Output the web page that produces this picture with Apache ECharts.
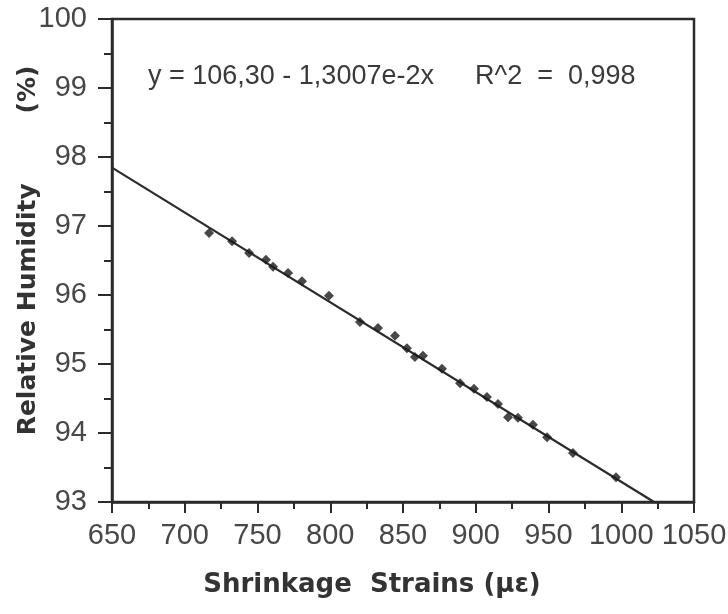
<!DOCTYPE html>
<html>
<head>
<meta charset="utf-8">
<script src="https://cdn.jsdelivr.net/npm/echarts@6/dist/echarts.min.js"></script>
<style>
  html, body { margin: 0; padding: 0; background: #fff; }
  #chart { width: 728px; height: 614px; }
</style>
</head>
<body>
<div id="chart"></div>
<script>
// Measured shrinkage strain (microstrain) against relative humidity (%)
const strain = [716.7, 732.5, 744.2, 755.8, 760.7, 771.0, 780.6, 799.1, 820.4, 832.8,
                844.5, 852.7, 858.2, 863.7, 876.8, 889.2, 898.8, 907.7, 915.3, 922.2,
                929.0, 939.3, 949.0, 966.8, 996.4];
const humidity = [96.90, 96.78, 96.61, 96.51, 96.41, 96.32, 96.20, 95.99, 95.61, 95.52,
                  95.41, 95.23, 95.10, 95.12, 94.93, 94.72, 94.64, 94.52, 94.42, 94.23,
                  94.22, 94.12, 93.94, 93.71, 93.36];

// Linear fit stated on the chart: y = 106,30 - 1,3007e-2 x
const fitIntercept = 106.30;
const fitSlope = -1.3007e-2;
const fitEquation = 'y = 106,30 - 1,3007e-2x';
const fitR2 = 'R^2  =  0,998';

const xMin = 650, xMax = 1050, yMin = 93, yMax = 100;

// Fit line runs from the left axis until it reaches the bottom of the plot
const fitEndX = (yMin - fitIntercept) / fitSlope;
const fitLine = [
  [xMin, fitIntercept + fitSlope * xMin],
  [fitEndX, yMin]
];

const ink = '#2b2b2b';
const labelColor = '#474747';

const chart = echarts.init(document.getElementById('chart'), null, { renderer: 'canvas' });
chart.setOption({
  backgroundColor: '#fff',
  animation: false,
  grid: {
    left: 112, right: 34, top: 19, bottom: 112,
    containLabel: false, outerBoundsMode: 'none',
    show: true, borderColor: ink, borderWidth: 2.5, backgroundColor: 'transparent'
  },
  xAxis: {
    type: 'value', min: xMin, max: xMax, interval: 50,
    name: 'Shrinkage  Strains (με)',
    nameLocation: 'middle', nameGap: 70, nameMoveOverlap: false,
    nameTextStyle: {
      fontFamily: 'DejaVu Sans', fontSize: 26, color: '#333', fontWeight: 'bold',
      padding: [0, 62, 0, 0]
    },
    axisLine: { show: true, onZero: false, lineStyle: { color: ink, width: 2.5 } },
    axisTick: { show: true, inside: false, length: 11, lineStyle: { color: ink, width: 2 } },
    minorTick: { show: true, splitNumber: 2, length: 7, lineStyle: { color: ink, width: 2 } },
    axisLabel: {
      margin: 19, fontFamily: 'Liberation Sans', fontSize: 29, color: labelColor,
      hideOverlap: false, formatter: v => String(v)
    },
    splitLine: { show: false }
  },
  yAxis: {
    type: 'value', min: yMin, max: yMax, interval: 1,
    name: 'Relative Humidity        (%)',
    nameLocation: 'middle', nameGap: 71, nameRotate: 90, nameMoveOverlap: false,
    nameTextStyle: {
      fontFamily: 'DejaVu Sans', fontSize: 25, color: '#333', fontWeight: 'bold',
      padding: [0, 0, 0, 20]
    },
    axisLine: { show: true, onZero: false, lineStyle: { color: ink, width: 2.5 } },
    axisTick: { show: true, inside: false, length: 14, lineStyle: { color: ink, width: 2 } },
    minorTick: { show: true, splitNumber: 2, length: 8, lineStyle: { color: ink, width: 2 } },
    axisLabel: {
      margin: 25, fontFamily: 'Liberation Sans', fontSize: 29, color: labelColor,
      formatter: v => String(v)
    },
    splitLine: { show: false }
  },
  series: [
    {
      type: 'line',
      data: fitLine,
      showSymbol: false,
      lineStyle: { color: ink, width: 2.2 },
      z: 2
    },
    {
      type: 'scatter',
      data: strain.map((s, i) => [s, humidity[i]]),
      symbol: 'diamond',
      symbolSize: 10,
      itemStyle: { color: '#1a1a1a' },
      z: 3
    }
  ],
  graphic: [
    {
      type: 'text',
      left: 148, top: 63,
      style: { text: fitEquation, fontFamily: 'Liberation Sans', fontSize: 27, fill: '#3a3a3a' }
    },
    {
      type: 'text',
      left: 475, top: 63,
      style: { text: fitR2, fontFamily: 'Liberation Sans', fontSize: 27, fill: '#3a3a3a' }
    }
  ]
});
</script>
</body>
</html>
